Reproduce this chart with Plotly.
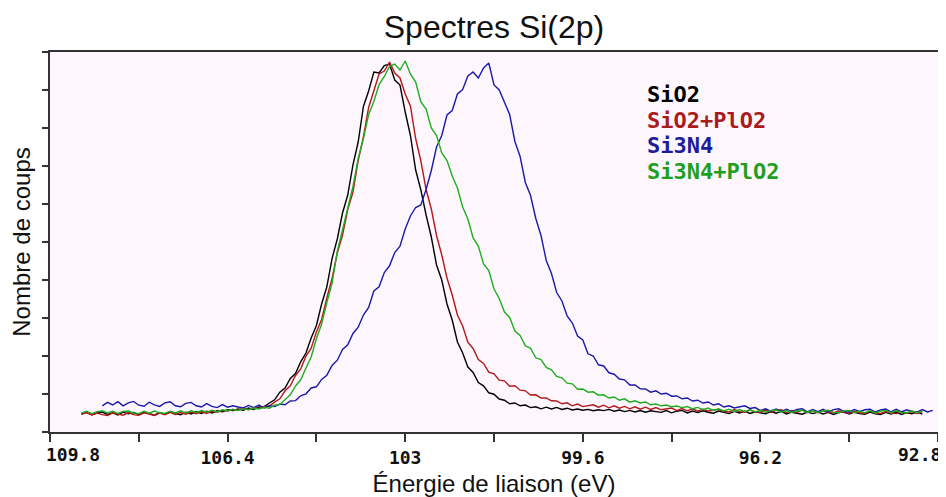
import plotly.graph_objects as go

# energy grid (eV), one point every 0.1 eV from 109.2 down to 92.9
energie = [round(109.2 - 0.1 * i, 1) for i in range(164)]

# counts (None = no data at that energy)
sio2 = [
    178, 196, 172, 190, 200, 176, 192, 170, 198, 182,
    194, 174, 200, 180, 168, 196, 178, 202, 184, 172,
    198, 180, 204, 186, 208, 190, 212, 202, 222,
    214, 230, 218, 240, 226, 250, 254, 290,
    322, 398, 440, 535, 585, 702, 790, 940, 1065, 1280, 1452, 1735, 1930,
    2190, 2370, 2672, 2900, 3255, 3410, 3600, 3590, 3665, 3680,
    3520, 3470, 3200, 2965, 2620, 2420, 2170, 1950, 1670, 1520,
    1280, 1120, 900, 790, 650, 595, 495, 462, 392, 378,
    330, 318, 282, 290, 262, 270, 244, 252, 232, 248,
    230, 246, 226, 238, 220, 230, 218, 226, 212, 222,
    214, 226, 208, 220, 204, 216, 200, 214, 198, 212,
    204, 196, 214, 192, 208, 216, 190, 210, 194, 212,
    198, 188, 210, 194, 184, 206, 190, 208, 186, 202,
    192, 182, 204, 188, 206, 180, 198, 186, 178, 200,
    184, 200, 180, 196, 176, 194, 202, 180, 198, 184,
    178, 198, 182, 174, 196, 180, 200, 176, 194, 182,
    198, 180, None, None,
]

sio2_plo2 = [
    176, 194, 170, 190, 174, 166, 192, 178, 168, 194,
    174, 168, 192, 180, 166, 190, 172, 196, 176, 194,
    178, 198, 182, 204, 186, 206, 196, 216, 210,
    226, 218, 238, 226, 244, 236, 252, 260,
    298, 332, 412, 462, 565, 630, 758, 838, 1000, 1125, 1340, 1535, 1790,
    1970, 2225, 2400, 2715, 2950, 3245, 3420, 3580, 3610, 3700,
    3590, 3540, 3380, 3260, 2935, 2710, 2425, 2230, 1965, 1770,
    1540, 1370, 1170, 1060, 895, 835, 725, 685, 598, 582,
    518, 512, 458, 462, 418, 412, 370, 372, 340, 340,
    312, 310, 282, 292, 262, 280, 254, 266, 272, 248,
    268, 242, 262, 238, 256, 232, 252, 228, 248, 226,
    244, 222, 234, 240, 214, 234, 212, 232, 208, 228,
    210, 220, 226, 206, 200, 224, 204, 198, 222, 202,
    198, 220, 196, 216, 222, 194, 214, 198, 218, 194,
    214, 192, 212, 196, 190, 212, 194, 188, 210, 192,
    188, 208, 190, 186, 206, 188, 184, 206, 186, 204,
    186, 204, None, None,
]

si3n4 = [
    None, None, None, None,
    262, 296, 270, 304, 262, 292,
    306, 268, 258, 298, 272, 256, 292, 302, 262, 252,
    286, 296, 262, 250, 284, 256, 244, 274, 248,
    262, 250, 240, 266, 244, 270, 240, 262,
    254, 280, 272, 310, 314, 362, 382, 440, 452, 526, 568, 665, 718,
    826, 872, 985, 1048, 1170, 1245, 1410, 1452, 1595, 1662,
    1795, 1858, 2030, 2160, 2245, 2270, 2425, 2615, 2850, 2965,
    3170, 3215, 3380, 3425, 3560, 3600, 3540, 3640, 3690, 3470,
    3420, 3290, 3175, 2905, 2755, 2495, 2365, 2135, 1965, 1715,
    1585, 1395, 1310, 1160, 1090, 960, 920, 782, 760, 672,
    660, 592, 578, 530, 522, 470, 470, 432, 430, 398,
    412, 380, 388, 358, 360, 332, 340, 310, 318, 290,
    300, 270, 282, 250, 262, 240, 252, 262, 236, 244,
    214, 232, 208, 230, 206, 228, 204, 226, 232, 202,
    226, 204, 228, 200, 224, 232, 204, 200, 226, 204,
    222, 228, 200, 220, 230, 202, 226, 200, 222, 206,
    198, 224, 200, 216,
]

si3n4_plo2 = [
    188, 208, 184, 204, 212, 190, 208, 186, 206, 210,
    190, 184, 208, 188, 210, 192, 186, 208, 190, 212,
    192, 212, 196, 216, 198, 218, 200, 222, 212,
    228, 214, 232, 222, 240, 230, 246,
    238, 268, 276, 328, 372, 460, 522, 640, 750, 932, 1080, 1295, 1490, 1805,
    2025, 2265, 2455, 2735, 2935, 3175, 3305, 3475, 3555, 3655,
    3680, 3620, 3710, 3580, 3500, 3300, 3230, 3040, 2965, 2790,
    2715, 2560, 2440, 2250, 2130, 1940, 1860, 1680, 1615, 1430,
    1335, 1200, 1145, 1010, 965, 862, 836, 742, 724, 645,
    622, 556, 542, 488, 482, 428, 430, 398, 402, 368,
    372, 340, 350, 318, 332, 298, 312, 290, 300, 272,
    280, 262, 270, 252, 260, 244, 254, 232, 246, 224,
    240, 216, 232, 210, 228, 206, 224, 204, 222, 202,
    218, 198, 216, 220, 198, 214, 196, 212, 218, 196,
    214, 194, 212, 218, 196, 192, 212, 216, 194, 210,
    192, 214, 190, 210, 216, 192, 212, 196, 190, 212,
    192, 210, None, None,
]

noms = ["SiO2", "SiO2+PlO2", "Si3N4", "Si3N4+PlO2"]
series = [sio2, sio2_plo2, si3n4, si3n4_plo2]
couleurs = ["#000000", "#b41818", "#1a1aaa", "#1fae1f"]
couleurs_leg = ["#000000", "#a81c1c", "#1c1c9c", "#1f9f1f"]

x_ticks = [109.8, 108.1, 106.4, 104.7, 103.0, 101.3, 99.6, 97.9, 96.2, 94.5, 92.8]
x_labels = ["109.8", "", "106.4", "", "103", "", "99.6", "", "96.2", "", "92.8"]
y_ticks = [380 * k for k in range(11)]

tick_font = dict(family="DejaVu Sans Mono", size=18, color="#111111", weight="bold")

fig = go.Figure()
for nom, ys, c in zip(noms, series, couleurs):
    fig.add_trace(go.Scatter(x=energie, y=ys, name=nom, mode="lines",
                             line=dict(color=c, width=1.4), showlegend=False))

# legend drawn as coloured text, like the original software
for k, (nom, c) in enumerate(zip(noms, couleurs_leg)):
    fig.add_annotation(text="<b>" + nom + "</b>", xref="paper", yref="paper",
                       x=0.67, y=0.887 - k * 0.067, xanchor="left", yanchor="middle",
                       showarrow=False,
                       font=dict(family="DejaVu Sans Mono", size=22, color=c))

# the two end labels sit inside the axis ends, not centred on their ticks
inner_text = [""] + x_labels[1:-1] + [""]
for val, lab, anchor, shift in [(x_ticks[0], x_labels[0], "left", -6),
                                (x_ticks[-1], x_labels[-1], "right", 5)]:
    fig.add_annotation(text=lab, x=val, xref="x", y=0, yref="paper",
                       xanchor=anchor, yanchor="top", xshift=shift, yshift=-10,
                       showarrow=False, font=tick_font)

axis_common = dict(showline=True, linecolor="#333333", linewidth=2, mirror=True,
                   showgrid=False, zeroline=False, ticks="outside", tickcolor="#333333")

fig.update_xaxes(range=[109.8, 92.8], tickvals=x_ticks, ticktext=inner_text,
                 ticklen=8, tickwidth=2, ticklabelstandoff=0,
                 tickfont=tick_font,
                 title=dict(text="Énergie de liaison (eV)", standoff=10,
                            font=dict(family="Liberation Sans", size=24, color="#111111")),
                 **axis_common)
fig.update_yaxes(range=[0, 3800], tickvals=y_ticks, showticklabels=False,
                 ticklen=6, tickwidth=1.5,
                 title=dict(text="Nombre de coups", standoff=6,
                            font=dict(family="Liberation Sans", size=24, color="#111111")),
                 **axis_common)

# the page body adds an 8 px offset, so the figure is 8 px smaller each way
fig.update_layout(
    width=938, height=489,
    margin=dict(l=42, r=8, t=44, b=65, autoexpand=False),
    paper_bgcolor="white", plot_bgcolor="#fdf6fd",
    title=dict(text="Spectres Si(2p)", x=486 / 938, xanchor="center",
               y=1 - 19 / 489, yref="container", yanchor="middle",
               font=dict(family="Liberation Sans", size=32, color="#111111")),
)

fig.write_html("out.html")
